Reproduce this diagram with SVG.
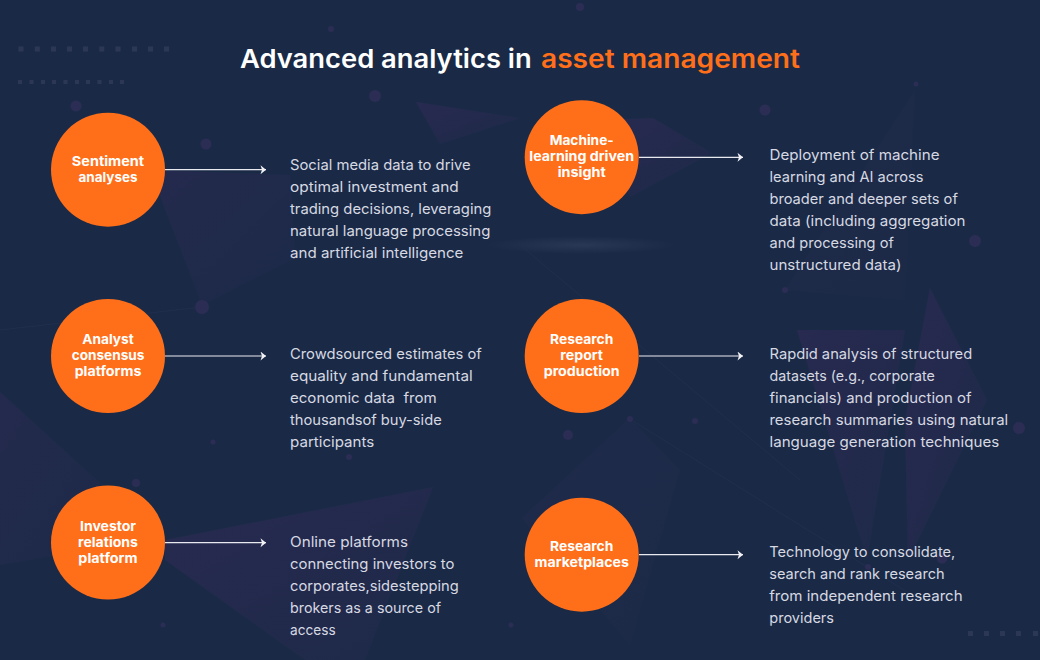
<svg xmlns="http://www.w3.org/2000/svg" width="1040" height="660" viewBox="0 0 1040 660">
<style>
text{font-family:"Inter","Noto Sans","Liberation Sans",sans-serif;white-space:pre}
.title{font-size:26px;font-weight:600}
.lab{font-size:13.2px;font-weight:700;fill:#fff;text-anchor:middle}
.body{font-size:14.4px;font-weight:400;fill:#d6d8e2}
.node{fill:#ff6f1a}
.conn{stroke:#e9eaef;stroke-width:1.2;fill:none;marker-end:url(#arr)}
.tri{fill:url(#fade)}
.dot{fill:#2c2d55}
.sq{fill:#2c3756}
</style>
<defs>
<marker id="arr" markerUnits="userSpaceOnUse" markerWidth="8" markerHeight="10" refX="6" refY="4.5" orient="auto"><path d="M0.500 0L6 4.500L0.500 9L2 4.500Z" fill="#f2f2f6"/></marker>
<linearGradient id="fade" x1="0" y1="0" x2="1" y2="1"><stop offset="0" stop-color="#2a2a52" stop-opacity=".9"/><stop offset="1" stop-color="#25294e" stop-opacity=".35"/></linearGradient>
<radialGradient id="glow"><stop offset="0" stop-color="#33435f" stop-opacity=".6"/><stop offset="1" stop-color="#33435f" stop-opacity="0"/></radialGradient>
</defs>
<g id="background">
<rect width="1040" height="660" fill="#1a2a46"/>
<path class="tri" opacity=".7" d="M150 170L290 175L295 258L202 305Z"/>
<path class="tri" d="M416 102L520 118L440 144Z"/>
<path class="tri" d="M653 118L712 153L630 197L600 120Z"/>
<path class="tri" d="M165 540L433 487L365 660H305L165 560Z"/>
<path class="tri" opacity=".7" d="M0 392L110 492L60 555L0 565Z"/>
<path class="tri" d="M930 288L987 400L908 560L905 420Z"/>
<path class="tri" d="M797 330L905 330L867 560Z"/>
<path class="tri" d="M785 290L915 90L905 300Z" opacity=".35"/>
<path class="tri" d="M522 518L630 418L680 470L630 645Z" opacity=".4"/>
<ellipse cx="581" cy="245" rx="95" ry="9" fill="url(#glow)"/>
<g stroke="#1f2f4d" stroke-width="1" fill="none">
<path d="M202 307L0 330M630 419L920 600M520 245L800 480"/>
</g>
<g>
<circle class="dot" cx="76" cy="106" r="5.5"/><circle class="dot" cx="206" cy="144" r="5.5"/><circle class="dot" cx="202" cy="307" r="7"/>
<circle class="dot" cx="375" cy="96" r="6"/><circle class="dot" cx="331" cy="29" r="3"/><circle class="dot" cx="765" cy="110" r="5.5"/>
<circle class="dot" cx="916" cy="84" r="2.5"/><circle class="dot" cx="975" cy="241" r="6"/><circle class="dot" cx="785" cy="290" r="3"/>
<circle class="dot" cx="1019" cy="428" r="6"/><circle class="dot" cx="630" cy="419" r="3"/><circle class="dot" cx="695" cy="421" r="3"/>
<circle class="dot" cx="568" cy="435" r="5"/><circle class="dot" cx="213" cy="442" r="2.500"/><circle class="dot" cx="349" cy="457" r="3"/>
<circle class="dot" cx="163" cy="625" r="2.500"/><circle class="dot" cx="511" cy="625" r="2.500"/><circle class="dot" cx="136" cy="483" r="4"/>
<circle class="dot" cx="868" cy="567" r="3"/><circle class="dot" cx="942" cy="558" r="5.500"/><circle class="dot" cx="580" cy="7" r="4"/>
</g>
<g class="sq">
<rect x="18.500" y="46.500" width="5" height="5"/><rect x="34.800" y="46.500" width="5" height="5"/><rect x="51" y="46.500" width="5" height="5"/><rect x="67" y="46.500" width="5" height="5"/><rect x="83" y="46.500" width="5" height="5"/><rect x="99.300" y="46.500" width="5" height="5"/><rect x="115.500" y="46.500" width="5" height="5"/><rect x="132" y="46.500" width="5" height="5"/><rect x="148" y="46.500" width="5" height="5"/><rect x="164" y="46.500" width="5" height="5"/>
<rect x="18" y="80" width="4" height="4"/><rect x="29.500" y="80" width="4" height="4"/><rect x="41" y="80" width="4" height="4"/><rect x="52" y="80" width="4" height="4"/><rect x="63.500" y="80" width="4" height="4"/><rect x="75" y="80" width="4" height="4"/><rect x="86" y="80" width="4" height="4"/><rect x="97.500" y="80" width="4" height="4"/><rect x="109" y="80" width="4" height="4"/><rect x="120" y="80" width="4" height="4"/>
<rect x="968" y="631" width="5" height="5"/><rect x="984" y="631" width="5" height="5"/><rect x="1000" y="631" width="5" height="5"/><rect x="1016" y="631" width="5" height="5"/><rect x="1033" y="631" width="5" height="5"/>
</g>
</g>
<g id="title">
<text class="title" fill="#fff" x="240" y="68.300" textLength="291.700" lengthAdjust="spacingAndGlyphs">Advanced analytics in</text>
<text class="title" fill="#ff6f1a" x="541" y="68.300" textLength="259" lengthAdjust="spacingAndGlyphs">asset management</text>
</g>
<g id="connectors">
<path class="conn" d="M165 169.700H266"/>
<path class="conn" d="M165 356H266"/>
<path class="conn" d="M165 542.700H266"/>
<path class="conn" d="M639 157.300H743"/>
<path class="conn" d="M639 356H743"/>
<path class="conn" d="M639 554.700H743"/>
</g>
<g id="node-sentiment">
<circle class="node" cx="108" cy="169.700" r="57"/>
<text class="lab" x="108" y="165.700" textLength="72.300" lengthAdjust="spacingAndGlyphs">Sentiment</text>
<text class="lab" x="108" y="181.700" textLength="59" lengthAdjust="spacingAndGlyphs">analyses</text>
</g>
<g id="node-analyst">
<circle class="node" cx="108" cy="356" r="57"/>
<text class="lab" x="108" y="344.300" textLength="51.300" lengthAdjust="spacingAndGlyphs">Analyst</text>
<text class="lab" x="108" y="360" textLength="72.700" lengthAdjust="spacingAndGlyphs">consensus</text>
<text class="lab" x="108" y="375.700" textLength="66.700" lengthAdjust="spacingAndGlyphs">platforms</text>
</g>
<g id="node-investor">
<circle class="node" cx="108" cy="542.500" r="57"/>
<text class="lab" x="108" y="531" textLength="56" lengthAdjust="spacingAndGlyphs">Investor</text>
<text class="lab" x="108" y="546.700" textLength="60" lengthAdjust="spacingAndGlyphs">relations</text>
<text class="lab" x="108" y="562.700" textLength="59.300" lengthAdjust="spacingAndGlyphs">platform</text>
</g>
<g id="node-machine">
<circle class="node" cx="581.700" cy="157.200" r="57"/>
<text class="lab" x="581.700" y="145.300" textLength="64" lengthAdjust="spacingAndGlyphs">Machine-</text>
<text class="lab" x="581.700" y="161.300" textLength="104.700" lengthAdjust="spacingAndGlyphs">learning driven</text>
<text class="lab" x="581.700" y="177" textLength="48" lengthAdjust="spacingAndGlyphs">insight</text>
</g>
<g id="node-report">
<circle class="node" cx="581.700" cy="356" r="57"/>
<text class="lab" x="581.700" y="344.300" textLength="63.300" lengthAdjust="spacingAndGlyphs">Research</text>
<text class="lab" x="581.700" y="360" textLength="42.700" lengthAdjust="spacingAndGlyphs">report</text>
<text class="lab" x="581.700" y="375.700" textLength="76" lengthAdjust="spacingAndGlyphs">production</text>
</g>
<g id="node-marketplaces">
<circle class="node" cx="581.700" cy="554.700" r="57"/>
<text class="lab" x="581.700" y="550.700" textLength="63.300" lengthAdjust="spacingAndGlyphs">Research</text>
<text class="lab" x="581.700" y="566.700" textLength="94.300" lengthAdjust="spacingAndGlyphs">marketplaces</text>
</g>
<g id="desc-sentiment">
<text class="body" x="290" y="170" textLength="180.700" lengthAdjust="spacingAndGlyphs">Social media data to drive</text>
<text class="body" x="290" y="192" textLength="168.700" lengthAdjust="spacingAndGlyphs">optimal investment and</text>
<text class="body" x="290" y="214" textLength="201.300" lengthAdjust="spacingAndGlyphs">trading decisions, leveraging</text>
<text class="body" x="290" y="236" textLength="200.300" lengthAdjust="spacingAndGlyphs">natural language processing</text>
<text class="body" x="290" y="258" textLength="173.300" lengthAdjust="spacingAndGlyphs">and artificial intelligence</text>
</g>
<g id="desc-analyst">
<text class="body" x="290" y="358.500" textLength="191.700" lengthAdjust="spacingAndGlyphs">Crowdsourced estimates of</text>
<text class="body" x="290" y="380.500" textLength="182.700" lengthAdjust="spacingAndGlyphs">equality and fundamental</text>
<text class="body" x="290" y="402.500" textLength="146.700" lengthAdjust="spacingAndGlyphs">economic data  from</text>
<text class="body" x="290" y="424.500" textLength="151.700" lengthAdjust="spacingAndGlyphs">thousandsof buy-side</text>
<text class="body" x="290" y="446.500" textLength="84.300" lengthAdjust="spacingAndGlyphs">participants</text>
</g>
<g id="desc-investor">
<text class="body" x="290" y="546.700" textLength="118" lengthAdjust="spacingAndGlyphs">Online platforms</text>
<text class="body" x="290" y="568.700" textLength="164.300" lengthAdjust="spacingAndGlyphs">connecting investors to</text>
<text class="body" x="290" y="590.700" textLength="168.700" lengthAdjust="spacingAndGlyphs">corporates,sidestepping</text>
<text class="body" x="290" y="612.700" textLength="151" lengthAdjust="spacingAndGlyphs">brokers as a source of</text>
<text class="body" x="290" y="634.700" textLength="45.700" lengthAdjust="spacingAndGlyphs">access</text>
</g>
<g id="desc-machine">
<text class="body" x="769.500" y="160" textLength="170" lengthAdjust="spacingAndGlyphs">Deployment of machine</text>
<text class="body" x="769.500" y="182" textLength="154" lengthAdjust="spacingAndGlyphs">learning and AI across</text>
<text class="body" x="769.500" y="204" textLength="188.300" lengthAdjust="spacingAndGlyphs">broader and deeper sets of</text>
<text class="body" x="769.500" y="226" textLength="196" lengthAdjust="spacingAndGlyphs">data (including aggregation</text>
<text class="body" x="769.500" y="248" textLength="124.300" lengthAdjust="spacingAndGlyphs">and processing of</text>
<text class="body" x="769.500" y="270" textLength="132" lengthAdjust="spacingAndGlyphs">unstructured data)</text>
</g>
<g id="desc-report">
<text class="body" x="769.500" y="358.500" textLength="202.700" lengthAdjust="spacingAndGlyphs">Rapdid analysis of structured</text>
<text class="body" x="769.500" y="380.500" textLength="165.300" lengthAdjust="spacingAndGlyphs">datasets (e.g., corporate</text>
<text class="body" x="769.500" y="402.500" textLength="202" lengthAdjust="spacingAndGlyphs">financials) and production of</text>
<text class="body" x="769.500" y="424.500" textLength="238.700" lengthAdjust="spacingAndGlyphs">research summaries using natural</text>
<text class="body" x="769.500" y="446.500" textLength="229.700" lengthAdjust="spacingAndGlyphs">language generation techniques</text>
</g>
<g id="desc-marketplaces">
<text class="body" x="769.300" y="556.700" textLength="186" lengthAdjust="spacingAndGlyphs">Technology to consolidate,</text>
<text class="body" x="769.300" y="578.700" textLength="175.300" lengthAdjust="spacingAndGlyphs">search and rank research</text>
<text class="body" x="769.300" y="600.700" textLength="193.300" lengthAdjust="spacingAndGlyphs">from independent research</text>
<text class="body" x="769.300" y="622.700" textLength="64.700" lengthAdjust="spacingAndGlyphs">providers</text>
</g>
</svg>
